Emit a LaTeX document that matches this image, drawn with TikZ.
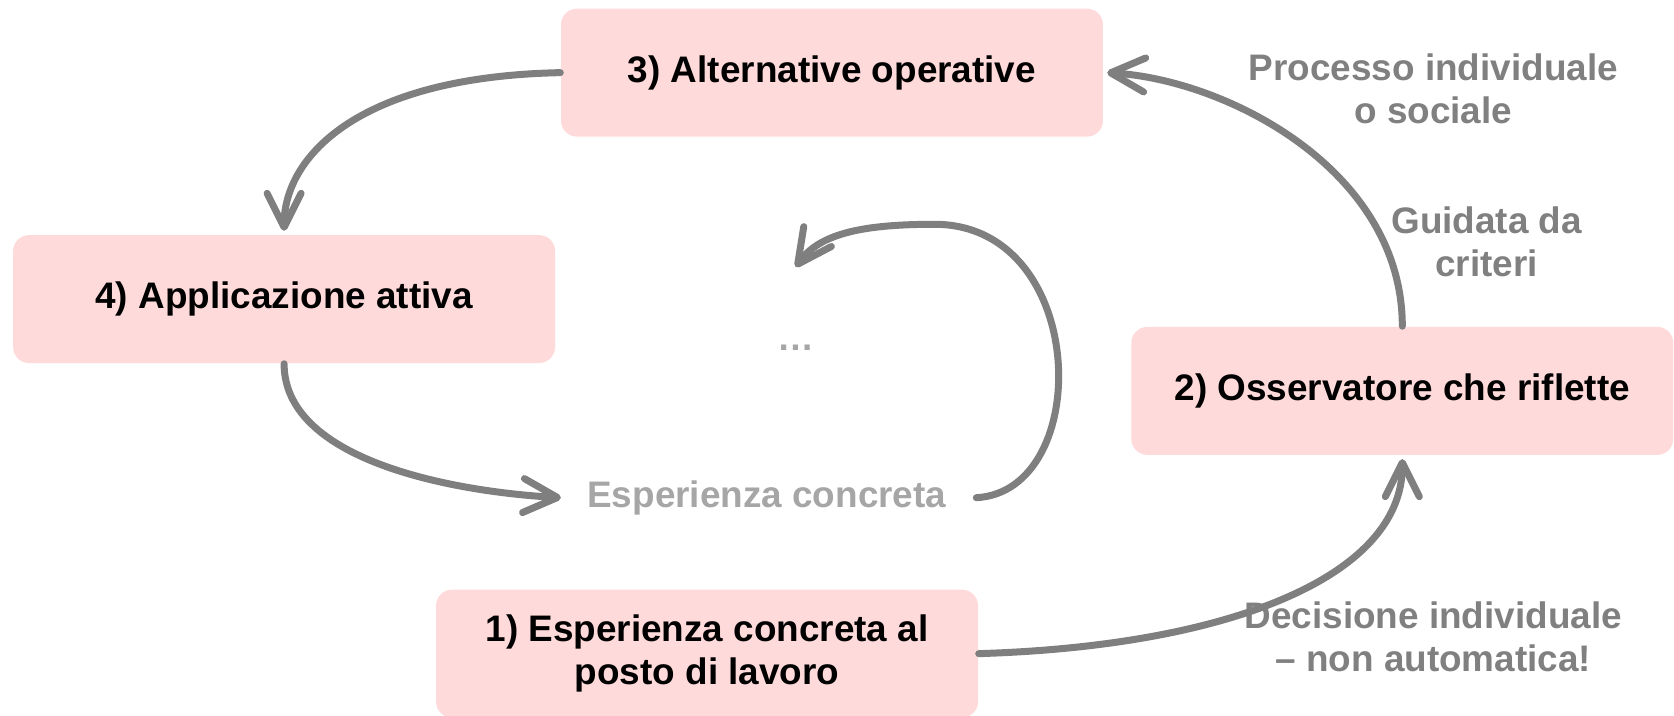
\documentclass[tikz,border=0pt]{standalone}
\usepackage{fontspec}
\setmainfont{Liberation Sans}
\usetikzlibrary{arrows.meta}
\definecolor{boxpink}{RGB}{255,218,218}
\definecolor{arrowgray}{RGB}{127,127,127}
\definecolor{notegray}{RGB}{128,128,128}
\definecolor{palegray}{RGB}{166,166,166}

\begin{document}
\begin{tikzpicture}[x=0.01068cm,y=-0.01068cm,
    stage/.style={fill=boxpink,rounded corners=0.16cm,minimum width=5.42cm,minimum height=1.28cm,
        align=center,font=\fontsize{10.5}{12.2}\selectfont\bfseries},
    note/.style={align=center,text=notegray,font=\fontsize{10.5}{12.2}\selectfont\bfseries},
    flow/.style={draw=arrowgray,line width=0.07cm,line cap=round,
        -{Straight Barb[length=0.34cm,width=0.34cm,round]}}]
    \useasboundingbox (0,0) rectangle (1567.4,669.5);
    % the four stages
    \node[stage] (alt) at (779,68) {3) Alternative operative};
    \node[stage] (app) at (266,280) {4) Applicazione attiva};
    \node[stage] (oss) at (1313,366) {2) Osservatore che riflette};
    \node[stage] (esp) at (662,612) {1) Esperienza concreta al\\posto di lavoro};
    % notes
    \node[note] (proc) at (1342,83) {Processo individuale\\o sociale};
    \node[note] (guid) at (1392,226) {Guidata da\\criteri};
    \node[note] (dec) at (1342,596) {Decisione individuale\\– non automatica!};
    \node[note,text=palegray] (loop) at (718,466) {Esperienza concreta};
    \node[note,text=palegray] (dots) at (745,326) {\dots};
    \coordinate (back) at (745,250);
    % cycle
    \draw[flow] (alt.west) .. controls (330,72) and (266,150) .. ([yshift=1pt]app.north);
    \draw[flow] (app.south) .. controls (266,430) and (420,460) .. ([xshift=-4pt]loop.west);
    \draw[flow] ([xshift=5pt]loop.east) .. controls (1025,460) and (1020,210) .. (875,210)
        .. controls (810,210) and (768,218) .. (back);
    \draw[flow] (esp.east) .. controls (1150,605) and (1313,540) .. ([yshift=-1pt]oss.south);
    \draw[flow] (oss.north) .. controls (1313,160) and (1150,75) .. ([xshift=1pt]alt.east);
\end{tikzpicture}
\end{document}
